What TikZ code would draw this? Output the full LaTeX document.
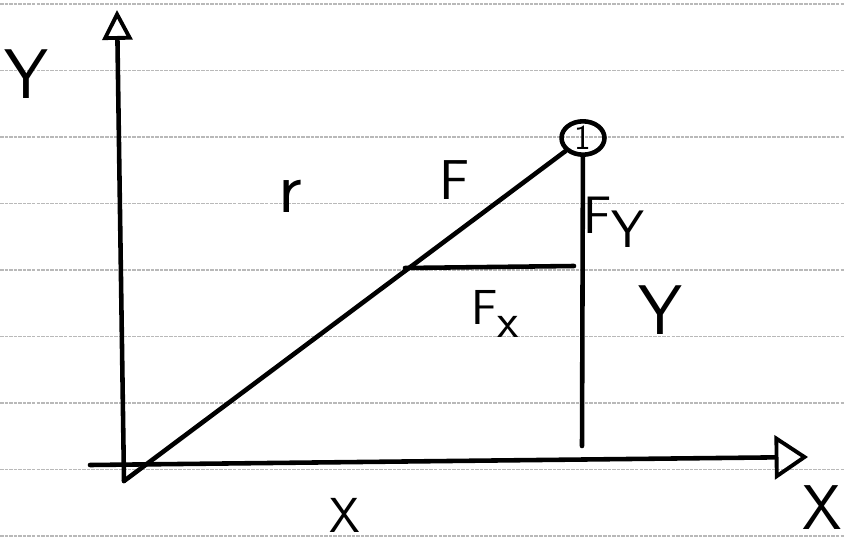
\documentclass[tikz,border=0pt]{standalone}
\usepackage{fontspec}
\usetikzlibrary{arrows.meta,shapes.geometric}

\tikzset{
    pen/.style={line width=2.6pt, line cap=round, line join=round},
    rule/.style={gray!55, line width=0.7pt, dash pattern=on 2pt off 0.6pt},
    lbl/.style={font=\sffamily\fontsize{#1}{#1}\selectfont, inner sep=0pt}
}

\begin{document}
\begin{tikzpicture}[x=0.02cm, y=-0.02cm]
        \useasboundingbox (0,0) rectangle (844,544);
        % Ruled paper
        \foreach \k in {0,...,8}
            \draw[rule] (0,4+66.5*\k) -- (844,4+66.5*\k);

        % Points for the axes and lines
        \coordinate (yb) at (124,481);
        \coordinate (yt) at (117,10);
        \coordinate (xl) at (90,465);
        \coordinate (xr) at (808,457);
        \coordinate (o) at (124,481);
        \coordinate (fya) at (582,446);
        \coordinate (fxa) at (405,268);
        \coordinate (fxb) at (574,266);
        \node[draw, pen, ellipse, minimum width=0.86cm, minimum height=0.56cm, inner sep=0pt, lbl=20] (p) at (583,138) {1};

        % Axes
        \draw[pen, -{Triangle[open, length=17pt, width=17pt, line width=2.2pt]}] (yb) -- (yt);
        \draw[pen, -{Triangle[open, length=19pt, width=25pt, line width=2.2pt]}] (xl) -- (xr);

        % Force and its parts
        \draw[pen] (o) -- (p);
        \draw[pen] (p) -- (fya);
        \draw[pen] (fxa) -- (fxb);

        % Labels
        \node[lbl=40] (ylbl) at (26,74) {Y};
        \node[lbl=42] (rlbl) at (290,196) {r};
        \node[lbl=32] (flbl) at (455,180) {F};
        \node[lbl=30] (fylbl) at (614,222) {F\raisebox{-8pt}{Y}};
        \node[lbl=28] (fxlbl) at (495,314) {F\raisebox{-7pt}{x}};
        \node[lbl=40] (yrlbl) at (660,310) {Y};
        \node[lbl=28] (xblbl) at (345,515) {X};
        \node[lbl=36] (xrlbl) at (822,508) {X};
\end{tikzpicture}
\end{document}
